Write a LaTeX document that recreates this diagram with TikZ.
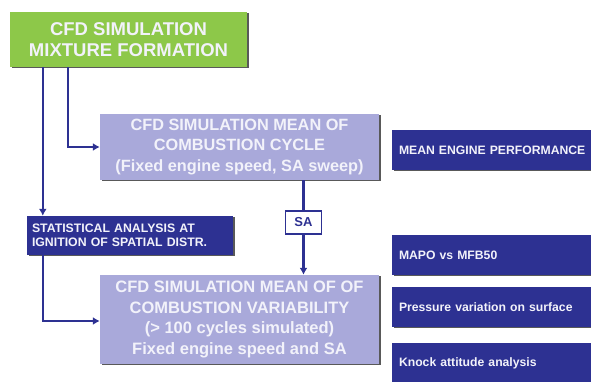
\documentclass[tikz,border=0pt]{standalone}
\usepackage{fontspec}
\setmainfont{Liberation Sans}
\usepackage{tikz}
\usetikzlibrary{arrows.meta,shadows}
\definecolor{simgreen}{HTML}{8DC849}
\definecolor{simlilac}{HTML}{A9A9DA}
\definecolor{simnavy}{HTML}{2D3192}
\definecolor{simpale}{HTML}{F2F2FA}
\tikzset{
  box/.style={inner sep=0pt, align=center, font=\bfseries,
    drop shadow={shadow xshift=1.5pt, shadow yshift=-1pt, fill=black!65, opacity=1}},
  greenbox/.style={box, fill=simgreen, text=simpale},
  lilacbox/.style={box, fill=simlilac, text=simpale},
  navybox/.style={box, fill=simnavy, text=simpale, align=left},
  outbox/.style={navybox, minimum width=210pt, minimum height=40pt,
    text width=196pt, font=\bfseries\fontsize{12.2}{14}\selectfont},
  flow/.style={draw=simnavy, line width=2.6pt, -{Latex[length=7pt,width=8pt]}},
}

\begin{document}
\begin{tikzpicture}[x=1pt,y=-1pt]
\useasboundingbox (0,0) rectangle (591,381);

% left column: simulation steps
\node[greenbox, minimum width=237pt, minimum height=55pt,
  font=\bfseries\fontsize{18.5}{21}\selectfont]
  (mix) at (128.5,39.5) {CFD SIMULATION\\MIXTURE FORMATION};
\node[lilacbox, minimum width=279pt, minimum height=66pt,
  font=\bfseries\fontsize{16.3}{20.5}\selectfont]
  (cycle) at (239.5,147) {CFD SIMULATION MEAN OF\\COMBUSTION CYCLE\\(Fixed engine speed, SA sweep)};
\node[navybox, minimum width=206pt, minimum height=39pt, text width=196pt,
  font=\bfseries\fontsize{12.3}{14}\selectfont]
  (stat) at (130,235.5) {STATISTICAL ANALYSIS AT\\IGNITION OF SPATIAL DISTR.};
\node[draw=simnavy, line width=1.4pt, fill=white, text=simnavy, inner sep=0pt,
  minimum width=36pt, minimum height=23pt, font=\bfseries\fontsize{13}{15}\selectfont]
  (sa) at (303.5,222.5) {SA};
\node[lilacbox, minimum width=279pt, minimum height=89pt,
  font=\bfseries\fontsize{16.5}{20.5}\selectfont]
  (var) at (239.5,319.5) {CFD SIMULATION MEAN OF OF\\COMBUSTION VARIABILITY\\(> 100 cycles simulated)\\Fixed engine speed and SA};

% right column: outputs
\node[outbox] (perf) at (497,150) {MEAN ENGINE PERFORMANCE};
\node[outbox] (mapo) at (497,255) {MAPO vs MFB50};
\node[outbox] (press) at (497,307) {Pressure variation on surface};
\node[outbox] (knock) at (497,363) {Knock attitude analysis};

% connectors
\draw[flow] ([xshift=33pt]mix.south west) -- ([xshift=33pt]mix.south west |- stat.north);
\draw[flow] ([xshift=58pt]mix.south west) |- (cycle.west);
\draw[draw=simnavy, line width=2.6pt] (cycle.south -| sa) -- (sa.north);
\draw[flow] (sa.south) -- (sa.south |- var.north);
\draw[flow] ([xshift=16pt]stat.south west) |- ([yshift=-1.5pt]var.west);
\end{tikzpicture}
\end{document}
